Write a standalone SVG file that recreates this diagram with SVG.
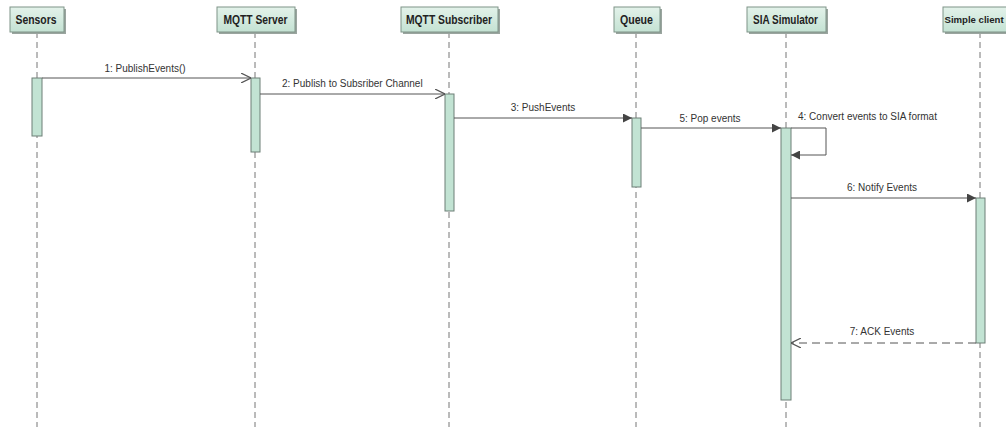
<svg xmlns="http://www.w3.org/2000/svg" width="1006" height="427" viewBox="0 0 1006 427">
<defs>
<linearGradient id="hg" x1="0" y1="0" x2="0" y2="1">
<stop offset="0" stop-color="#e3f2ea"/>
<stop offset="1" stop-color="#c4e2d3"/>
</linearGradient>
<marker id="open" viewBox="0 0 10 10" refX="10" refY="5" markerWidth="10" markerHeight="10" markerUnits="userSpaceOnUse" orient="auto">
<path d="M0,0 L10,5 L0,10" fill="none" stroke="#555" stroke-width="1.2"/>
</marker>
<marker id="filled" viewBox="0 0 10 10" refX="10" refY="5" markerWidth="9" markerHeight="9" markerUnits="userSpaceOnUse" orient="auto">
<path d="M0,0 L10,5 L0,10 Z" fill="#444"/>
</marker>
</defs>
<style>
.hdr{fill:url(#hg);stroke:#7f9488;stroke-width:1}
.shd{fill:#9aa59f}
.ht{font-family:"Liberation Sans",Arial,sans-serif;font-size:12px;font-weight:bold;fill:#222;text-anchor:middle}
.life{stroke:#777;stroke-width:1;stroke-dasharray:6,4;fill:none}
.act{fill:#c2e3d3;stroke:#6d7f76;stroke-width:1}
.msg{stroke:#555;stroke-width:1;fill:none}
.ret{stroke:#555;stroke-width:1;fill:none;stroke-dasharray:8,5}
.ml{font-family:"Liberation Sans",Arial,sans-serif;font-size:10px;fill:#333}
</style>
<rect width="1006" height="427" fill="#fff"/>
<g id="sensors">
<line class="life" x1="37" y1="32" x2="37" y2="427"/>
<rect class="shd" x="12" y="9" width="54" height="25"/>
<rect class="hdr" x="10" y="7" width="54" height="25"/>
<text class="ht" x="36" y="23.5" textLength="41" lengthAdjust="spacingAndGlyphs">Sensors</text>
<rect class="act" x="32" y="78" width="10" height="58"/>
</g>
<g id="mqtt-server">
<line class="life" x1="255" y1="32" x2="255" y2="427"/>
<rect class="shd" x="219" y="9" width="78" height="25"/>
<rect class="hdr" x="217" y="7" width="78" height="25"/>
<text class="ht" x="255.5" y="23.5" textLength="64" lengthAdjust="spacingAndGlyphs">MQTT Server</text>
<rect class="act" x="251" y="78" width="9" height="74"/>
</g>
<g id="mqtt-subscriber">
<line class="life" x1="449" y1="32" x2="449" y2="427"/>
<rect class="shd" x="403" y="9" width="97" height="25"/>
<rect class="hdr" x="401" y="7" width="97" height="25"/>
<text class="ht" x="449" y="23.5" textLength="86" lengthAdjust="spacingAndGlyphs">MQTT Subscriber</text>
<rect class="act" x="445" y="94" width="9" height="117"/>
</g>
<g id="queue">
<line class="life" x1="636" y1="32" x2="636" y2="427"/>
<rect class="shd" x="616" y="9" width="46" height="25"/>
<rect class="hdr" x="614" y="7" width="46" height="25"/>
<text class="ht" x="636.5" y="23.5" textLength="33" lengthAdjust="spacingAndGlyphs">Queue</text>
<rect class="act" x="632" y="118" width="9" height="69"/>
</g>
<g id="sia-simulator">
<line class="life" x1="786" y1="32" x2="786" y2="427"/>
<rect class="shd" x="749" y="9" width="79" height="25"/>
<rect class="hdr" x="747" y="7" width="79" height="25"/>
<text class="ht" x="785.5" y="23.5" textLength="65" lengthAdjust="spacingAndGlyphs">SIA Simulator</text>
<rect class="act" x="781" y="128" width="10" height="272"/>
</g>
<g id="simple-client">
<line class="life" x1="980" y1="32" x2="980" y2="427"/>
<rect class="shd" x="945" y="9" width="80" height="25"/>
<rect class="hdr" x="943" y="7" width="80" height="25"/>
<text class="ht" x="944.5" y="23" style="text-anchor:start;font-size:9.6px">Simple client</text>
<rect class="act" x="976" y="198" width="9" height="145"/>
</g>
<g id="connectors">
<line class="msg" x1="42" y1="78" x2="251" y2="78" marker-end="url(#open)"/>
<text class="ml" x="145" y="72" text-anchor="middle">1: PublishEvents()</text>
<line class="msg" x1="260" y1="94" x2="445" y2="94" marker-end="url(#open)"/>
<text class="ml" x="282" y="87">2: Publish to Subsriber Channel</text>
<line class="msg" x1="454" y1="118" x2="632" y2="118" marker-end="url(#filled)"/>
<text class="ml" x="543" y="111" text-anchor="middle">3: PushEvents</text>
<line class="msg" x1="641" y1="128" x2="781" y2="128" marker-end="url(#filled)"/>
<text class="ml" x="710" y="122" text-anchor="middle">5: Pop events</text>
<polyline class="msg" points="791,128 826,128 826,155 791,155" marker-end="url(#filled)"/>
<text class="ml" x="798" y="120">4: Convert events to SIA format</text>
<line class="msg" x1="791" y1="198" x2="976" y2="198" marker-end="url(#filled)"/>
<text class="ml" x="882" y="191" text-anchor="middle">6: Notify Events</text>
<line class="ret" x1="976" y1="343" x2="791" y2="343" marker-end="url(#open)"/>
<text class="ml" x="882" y="335" text-anchor="middle">7: ACK Events</text>
</g>
</svg>
